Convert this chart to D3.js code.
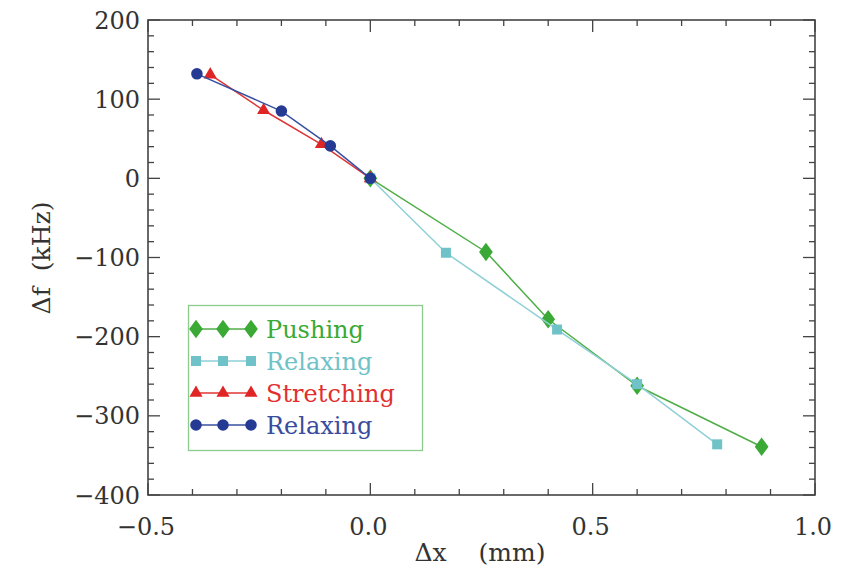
<!DOCTYPE html>
<html><head><meta charset="utf-8">
<script src="https://cdn.jsdelivr.net/npm/d3@7"></script>
<style>body{margin:0;background:#fff}svg{display:block}text{white-space:pre}</style>
</head><body>
<svg id="c" width="843" height="570"></svg>
<script>
// Data
const pushX = [0, 0.26, 0.40, 0.60, 0.88];
const pushY = [0, -93, -178, -262, -339];
const relax1X = [0, 0.17, 0.42, 0.60, 0.78];
const relax1Y = [0, -94, -191, -260, -336];
const stretchX = [0, -0.11, -0.24, -0.36];
const stretchY = [0, 43, 86, 131];
const relax2X = [0, -0.09, -0.20, -0.39];
const relax2Y = [0, 41, 85, 132];
const xTicks = [-0.5, 0.0, 0.5, 1.0];
const yTicks = [-400, -300, -200, -100, 0, 100, 200];
const seriesNames = ["Pushing", "Relaxing", "Stretching", "Relaxing"];

const svg = d3.select("#c");
const L = 148, R = 815, T = 20, B = 495;
const x = d3.scaleLinear().domain([-0.5, 1.0]).range([L, R]);
const y = d3.scaleLinear().domain([-400, 200]).range([B, T]);
const font = "'DejaVu Serif', serif";
const frameCol = "#444";
const textCol = "#333";

// ticks
const xMinor = d3.range(-0.5, 1.0001, 0.1);
const yMinor = d3.range(-400, 200.001, 20);
const g = svg.append("g").attr("stroke", frameCol).attr("stroke-width", 1.3);
xMinor.forEach(v => {
  const major = Math.abs(v * 2 - Math.round(v * 2)) < 1e-6;
  const len = major ? 12 : 6;
  g.append("line").attr("x1", x(v)).attr("x2", x(v)).attr("y1", B).attr("y2", B - len);
  g.append("line").attr("x1", x(v)).attr("x2", x(v)).attr("y1", T).attr("y2", T + len);
});
yMinor.forEach(v => {
  const major = Math.abs(v / 100 - Math.round(v / 100)) < 1e-6;
  const len = major ? 12 : 6;
  g.append("line").attr("y1", y(v)).attr("y2", y(v)).attr("x1", L).attr("x2", L + len);
  g.append("line").attr("y1", y(v)).attr("y2", y(v)).attr("x1", R).attr("x2", R - len);
});
svg.append("rect").attr("x", L).attr("y", T).attr("width", R - L).attr("height", B - T)
  .attr("fill", "none").attr("stroke", frameCol).attr("stroke-width", 1.6);

// tick labels
const fmtX = v => (v < 0 ? "\u2212" : "") + Math.abs(v).toFixed(1);
const fmtY = v => (v < 0 ? "\u2212" : "") + Math.abs(v);
svg.append("g").selectAll("text").data(xTicks).join("text")
  .attr("x", d => x(d) - 2).attr("y", 535).attr("text-anchor", "middle")
  .attr("font-family", font).attr("font-size", 24).attr("fill", textCol).text(fmtX);
svg.append("g").selectAll("text").data(yTicks).join("text")
  .attr("x", 140).attr("y", d => y(d) + 8.5).attr("text-anchor", "end")
  .attr("font-family", font).attr("font-size", 24).attr("fill", textCol).text(fmtY);

// axis titles
svg.append("text").attr("x", 480).attr("y", 561).attr("text-anchor", "middle")
  .attr("font-family", font).attr("font-size", 25).attr("fill", textCol)
  .text("\u0394x    (mm)");
svg.append("text").attr("transform", "translate(50,258) rotate(-90)").attr("text-anchor", "middle")
  .attr("font-family", font).attr("font-size", 25).attr("fill", textCol)
  .text("\u0394f  (kHz)");

// symbols
const diamond = {draw(ctx, size) { const h = Math.sqrt(size) * 0.75, w = h * 0.75;
  ctx.moveTo(0, -h); ctx.lineTo(w, 0); ctx.lineTo(0, h); ctx.lineTo(-w, 0); ctx.closePath(); }};

// series
const series = [
  {xs: pushX, ys: pushY, line: "#4fae47", fill: "#3aa935", sym: diamond, size: 150, text: "#3aa935"},
  {xs: relax1X, ys: relax1Y, line: "#8fcfd6", fill: "#6fc2c8", sym: d3.symbolSquare, size: 100, text: "#6fc2c8"},
  {xs: stretchX, ys: stretchY, line: "#e03535", fill: "#e02525", sym: d3.symbolTriangle, size: 75, text: "#e03030"},
  {xs: relax2X, ys: relax2Y, line: "#3850a0", fill: "#253a93", sym: d3.symbolCircle, size: 105, text: "#3a4c9c"}
];
const line = d3.line();
series.forEach(s => {
  const pts = s.xs.map((v, i) => [x(v), y(s.ys[i])]);
  svg.append("path").attr("d", line(pts)).attr("fill", "none").attr("stroke", s.line).attr("stroke-width", 1.5);
  svg.append("g").selectAll("path").data(pts).join("path")
    .attr("transform", d => `translate(${d[0]},${d[1]})`)
    .attr("d", d3.symbol().type(s.sym).size(s.size)).attr("fill", s.fill);
});

// legend
svg.append("rect").attr("x", 188.5).attr("y", 305.5).attr("width", 234).attr("height", 145)
  .attr("fill", "none").attr("stroke", "#8ccc8a").attr("stroke-width", 1.3);
const legY = [329, 361, 393, 425];
series.forEach((s, i) => {
  const yy = legY[i];
  const mx = [196, 223, 251];
  svg.append("line").attr("x1", mx[0]).attr("x2", mx[2]).attr("y1", yy).attr("y2", yy)
    .attr("stroke", s.line).attr("stroke-width", 1.5);
  mx.forEach(xx => svg.append("path").attr("transform", `translate(${xx},${yy})`)
    .attr("d", d3.symbol().type(s.sym).size(s.size)).attr("fill", s.fill));
  svg.append("text").attr("x", 266).attr("y", yy + 8.5).attr("font-family", font).attr("font-size", 24)
    .attr("fill", s.text).text(seriesNames[i]);
});
</script>
</body></html>
